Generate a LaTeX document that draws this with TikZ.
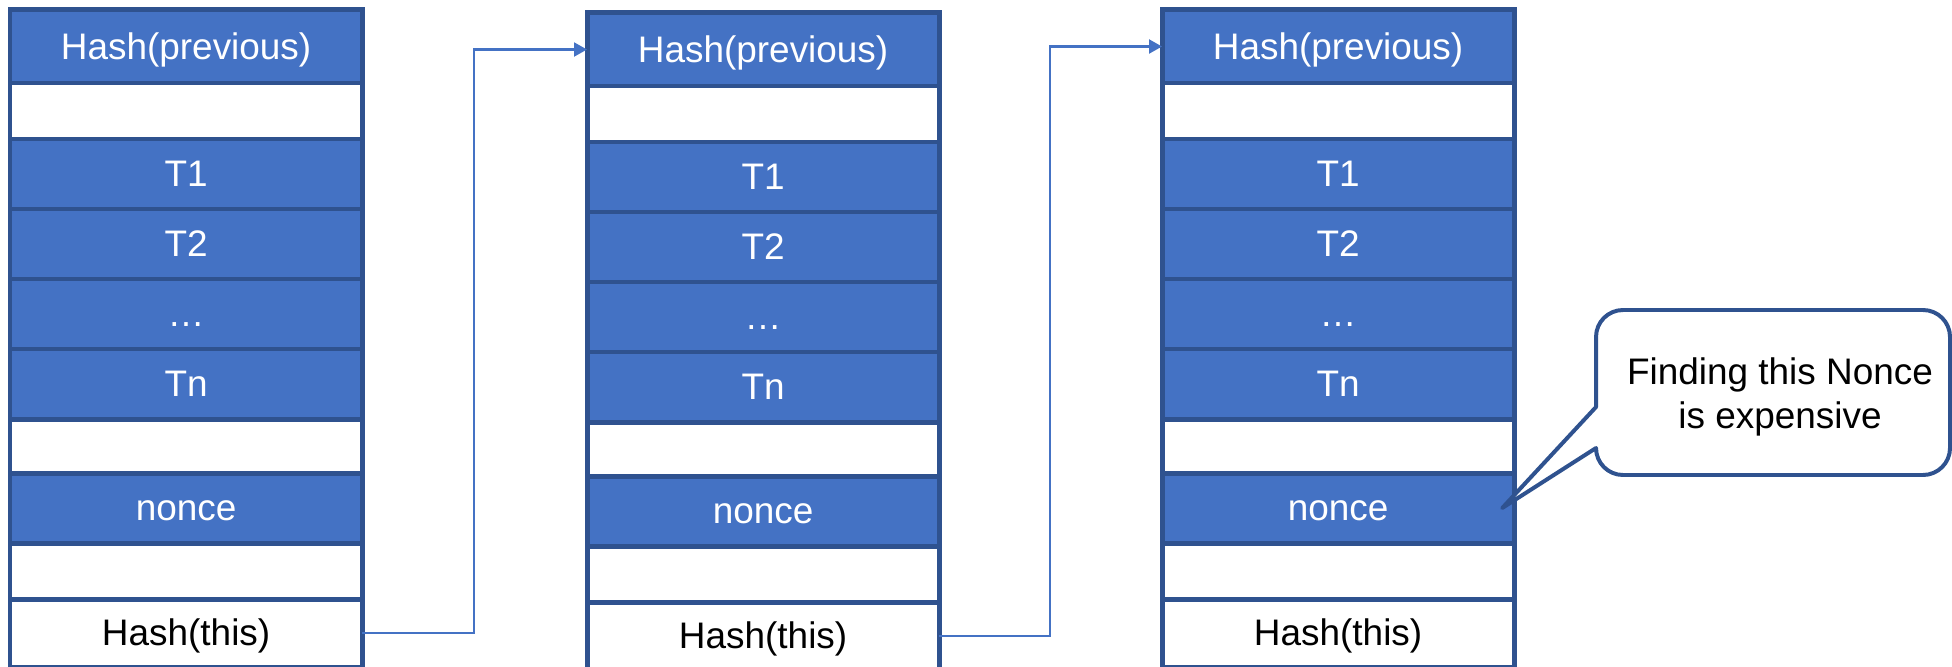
\documentclass[tikz,border=0pt]{standalone}
\usepackage{fontspec}
\setmainfont{Liberation Sans}
\usetikzlibrary{arrows.meta}

\definecolor{accent}{HTML}{4472C4}
\definecolor{edge}{HTML}{2F528F}

% one block of the chain: name, left x, top y (in px units)
\newcommand\chainblock[3]{%
  \node[bluecell,  minimum height=0.73cm] (#1-hp)    at (#2,#3)        {Hash(previous)};
  \node[whitecell, minimum height=0.56cm] (#1-w1)    at (#2,{#3+73})  {};
  \node[bluecell,  minimum height=0.70cm] (#1-t1)    at (#2,{#3+129}) {T1};
  \node[bluecell,  minimum height=0.70cm] (#1-t2)    at (#2,{#3+199}) {T2};
  \node[bluecell,  minimum height=0.70cm] (#1-dots)  at (#2,{#3+269}) {…};
  \node[bluecell,  minimum height=0.70cm] (#1-tn)    at (#2,{#3+339}) {Tn};
  \node[whitecell, minimum height=0.54cm] (#1-w2)    at (#2,{#3+409}) {};
  \node[bluecell,  minimum height=0.70cm] (#1-nonce) at (#2,{#3+463}) {nonce};
  \node[whitecell, minimum height=0.56cm] (#1-w3)    at (#2,{#3+533}) {};
  \node[whitecell, minimum height=0.68cm] (#1-ht)    at (#2,{#3+589}) {Hash(this)};
}

\begin{document}
\begin{tikzpicture}[
  x=0.01cm, y=-0.01cm,
  cell/.style={draw=edge, line width=1.42pt, minimum width=3.52cm,
    inner sep=0pt, outer sep=0pt, anchor=north west,
    text height=0.71em, text depth=0pt,
    font=\fontsize{10.5pt}{12.5pt}\selectfont},
  bluecell/.style={cell, fill=accent, text=white},
  whitecell/.style={cell, fill=white, text=black},
  link/.style={draw=accent, line width=0.6pt,
    -{Triangle[length=0.13cm, width=0.14cm]}},
  bubble/.style={draw=edge, line width=1.13pt, fill=white, line join=round},
  bubbletext/.style={align=center, inner sep=0pt,
    font=\fontsize{10.5pt}{12.5pt}\selectfont},
]
\fill[white] (0,0) rectangle (1952,667);
\useasboundingbox (0,0) rectangle (1952,667);

\chainblock{b1}{10}{10}
\chainblock{b2}{587}{13}
\chainblock{b3}{1162}{10}

% links: hash of each block feeds the next block's header
\draw[link] (b1-ht.east) -- ++(112,0) |- (b2-hp.west);
\draw[link] (b2-ht.east) -- ++(111,0) |- (b3-hp.west);

% speech bubble pointing at the last nonce
\coordinate (tip) at ([xshift=-0.12cm]b3-nonce.east);
\draw[bubble] (tip) -- (1596,407) -- (1596,337)
  arc[start angle=180, end angle=270, radius=27] -- (1923,310)
  arc[start angle=270, end angle=360, radius=27] -- (1950,448)
  arc[start angle=0, end angle=90, radius=27] -- (1623,475)
  arc[start angle=90, end angle=180, radius=27] -- cycle;
\node[bubbletext] (note) at (1780,397) {Finding this Nonce\\is expensive};
\end{tikzpicture}
\end{document}
